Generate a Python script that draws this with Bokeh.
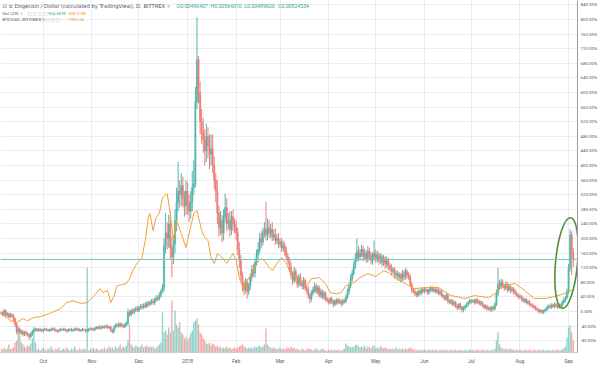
from datetime import date
from bokeh.plotting import figure
from bokeh.models import Range1d, FixedTicker, PrintfTickFormatter, Span, Label, ColumnDataSource
from bokeh.embed import file_html
from bokeh.resources import INLINE

# ---------------- data (percent change vs. first bar) ----------------
START = date(2017, 9, 4)
month_starts = [date(2017, 10, 1), date(2017, 11, 1), date(2017, 12, 1), date(2018, 1, 1),
                date(2018, 2, 1), date(2018, 3, 1), date(2018, 4, 1), date(2018, 5, 1),
                date(2018, 6, 1), date(2018, 7, 1), date(2018, 8, 1), date(2018, 9, 1)]
month_labels = ["Oct", "Nov", "Dec", "2018", "Feb", "Mar", "Apr", "May", "Jun", "Jul", "Aug", "Sep"]
pct_ticks = list(range(-80, 841, 40))

first_open = -2.0
closes = [
    -5, -8, 2, -10, -6, -14, -9, -12, -20, -35,
    -55, -48, -58, -55, -62, -57, -60, -64, -68, -62, -55, -50, -48,
    -52, -49, -51, -53, -50, -48, -50, -52, -51, -49, -47, -50, -52, -54, -51, -49, -50, -48, -51, -53,
    -50, -49, -52, -50, -48, -47, -50, -52, -51, -49, -50, -53, -51, -48, -47, -49, -50,
    -45, -43, -46, -42, -44, -41, -43, -40, -44, -42,
    -50, -55, -44, -38, -36, -40, -34, -38, -42, -36, -33,
    -2, -8, 2, -2, 5, 8, 4, 10, 14, 12, 18, 15, 22, 20, 25,
    28, 24, 32, 38, 35, 45, 55, 65,
    180, 215, 200, 240, 175, 150,
    185, 250, 300, 330, 320, 345, 310, 290, 330, 300, 275, 300, 340, 350,
    575, 690, 600, 520, 490,
    470, 440, 480, 455, 430, 445,
    400, 360, 330,
    270, 230, 250, 215,
    260, 285, 240,
    250, 225, 260, 240, 230, 215,
    170, 140, 100, 75,
    60, 80, 55, 70,
    95, 115, 105, 135, 155,
    170, 200, 190, 215, 225, 210,
    230, 215, 225, 205, 210, 195, 200, 185, 190, 175, 180, 165, 150, 140, 120,
    100, 85, 110,
    90, 75, 95, 80, 70, 85, 65, 60,
    45, 35, 50,
    60, 70, 55, 65, 45, 55, 40, 50, 35,
    30, 25, 35, 28, 20, 30, 25, 32, 27, 22, 30, 28,
    40, 55, 70, 90, 105, 125, 145,
    165, 150, 160,
    170, 150, 160, 145, 165, 155, 140, 150, 160, 145, 155, 140, 150, 135, 145, 130, 140, 125,
    120, 110, 115, 100, 105, 95, 100, 90, 105, 95, 110, 100, 95,
    75, 60, 55, 50,
    45, 55, 50, 60, 55, 62, 58, 52, 60, 65, 58, 62, 55, 60, 50,
    55, 45, 40, 35, 45, 30,
    25, 30, 20, 25, 15, 10, 20, 12, 5, 10, 15, 20, 25, 30, 28,
    30, 25, 32, 28, 22, 25, 18, 12, 15, 8, 10, 5, 12, 8, 20,
    50, 75, 70, 80,
    70, 65, 75, 60, 68, 58, 62, 55, 50,
    45, 40, 42, 35, 30, 33, 25, 28, 20, 18, 15, 12,
    8, 5, 0, 3, -2, 2, 5,
    10, 15, 12, 18, 14, 20, 15, 12, 18, 16,
    25, 32, 38,
    55, 120, 210, 160, 142.89,
]
up_wick = [
    4, 5, 6, 4, 5, 3, 6, 4, 5, 4,
    5, 8, 4, 6, 5, 4, 6, 3, 5, 6, 5, 7, 4,
    3, 4, 3, 5, 3, 4, 3, 3, 4, 5, 3, 4, 3, 3, 4, 5, 3, 4, 3, 3, 4, 3, 5, 3, 4, 3, 3, 4, 3, 5,
    3, 3, 4, 3, 4, 3, 5, 4, 3, 4, 6, 3, 4, 3, 5, 4, 3,
    4, 3, 6, 5, 4, 6, 5, 4, 3, 5, 6,
    10, 6, 5, 7, 5, 6, 8, 5, 6, 7, 5, 8, 6, 7, 6,
    6, 8, 5, 7, 6, 8, 7, 10,
    20, 55, 30, 25, 35, 30,
    25, 30, 40, 80, 30, 35, 25, 20, 30, 25, 20, 30, 45, 64,
    40, 116, 10, 30, 35,
    40, 30, 35, 25, 30, 40,
    40, 25, 20,
    30, 20, 25, 15,
    20, 38, 25,
    20, 25, 15, 20, 15, 20,
    15, 20, 15, 10,
    10, 12, 10, 8,
    10, 12, 15, 10, 15,
    20, 15, 20, 15, 20, 75,
    25, 20, 15, 20, 15, 18, 12, 15, 10, 12, 15, 10, 12, 10, 8,
    15, 10, 12,
    8, 10, 8, 10, 8, 10, 6, 8,
    8, 6, 8,
    8, 10, 6, 8, 6, 8, 6, 8, 5,
    5, 6, 5, 6, 4, 5, 6, 5, 4, 5, 6, 5,
    6, 8, 10, 12, 10, 12, 15,
    35, 15, 12,
    12, 10, 12, 8, 14, 10, 8, 12, 35, 10, 12, 8, 10, 8, 10, 8, 10, 8,
    8, 10, 8, 6, 8, 6, 8, 6, 10, 8, 10, 6, 8,
    8, 6, 5, 6,
    5, 6, 4, 6, 5, 6, 5, 4, 6, 5, 4, 6, 5, 4, 5,
    5, 6, 4, 5, 6, 4,
    4, 5, 4, 5, 4, 5, 4, 5, 4, 5, 4, 5, 4, 5, 4,
    5, 4, 5, 4, 4, 5, 4, 4, 5, 4, 4, 5, 4, 4, 6,
    10, 45, 12, 10,
    8, 6, 8, 6, 8, 5, 6, 5, 6,
    5, 4, 5, 4, 5, 4, 5, 4, 4, 5, 4, 4,
    4, 3, 4, 3, 4, 3, 4,
    4, 5, 4, 5, 4, 5, 4, 4, 5, 4,
    5, 6, 6,
    8, 10, 15, 10, 15,
]
dn_wick = [
    4, 5, 4, 6, 4, 5, 4, 5, 6, 8,
    8, 5, 6, 5, 6, 5, 6, 5, 10, 5, 4, 5, 4,
    4, 3, 4, 3, 5, 3, 4, 3, 3, 4, 3, 5, 3, 4, 3, 3, 4, 3, 3, 5, 3, 4, 3, 3, 4, 5, 3, 3, 4, 3,
    3, 4, 3, 5, 3, 4, 3, 3, 4, 3, 3, 5, 3, 4, 3, 4, 3,
    6, 5, 4, 3, 5, 4, 3, 5, 4, 3, 4,
    5, 6, 5, 6, 5, 6, 5, 6, 5, 6, 5, 6, 5, 6, 5,
    6, 5, 6, 5, 6, 5, 6, 5,
    10, 20, 30, 25, 30, 55,
    20, 25, 30, 25, 35, 30, 25, 30, 25, 35, 30, 20, 25, 20,
    10, 20, 30, 35, 30,
    35, 40, 30, 35, 40, 30,
    20, 25, 30,
    30, 25, 20, 25,
    20, 15, 20,
    15, 20, 15, 20, 15, 20,
    15, 20, 15, 20,
    15, 10, 20, 10,
    10, 12, 10, 12, 10,
    12, 10, 15, 10, 12, 15,
    15, 12, 15, 12, 10, 12, 10, 12, 10, 12, 10, 12, 10, 10, 12,
    10, 12, 8,
    8, 10, 8, 10, 8, 10, 8, 10,
    10, 13, 8,
    6, 8, 6, 8, 6, 8, 6, 8, 6,
    5, 6, 5, 6, 8, 5, 6, 5, 6, 8, 5, 6,
    5, 6, 8, 6, 8, 6, 8,
    10, 12, 10,
    10, 12, 10, 12, 10, 12, 10, 12, 10, 12, 10, 12, 10, 12, 10, 12, 10, 12,
    8, 10, 8, 10, 8, 10, 8, 10, 8, 10, 8, 10, 8,
    6, 8, 6, 8,
    5, 6, 5, 6, 5, 6, 5, 6, 5, 6, 5, 6, 5, 6, 5,
    6, 5, 6, 5, 6, 8,
    5, 6, 5, 6, 5, 6, 5, 6, 8, 5, 6, 5, 6, 5, 6,
    5, 6, 5, 6, 5, 6, 5, 6, 5, 6, 5, 6, 5, 6, 5,
    5, 8, 10, 8,
    6, 8, 6, 8, 6, 8, 6, 8, 6,
    5, 6, 5, 6, 5, 6, 5, 6, 5, 6, 5, 6,
    5, 4, 5, 4, 5, 4, 5,
    4, 5, 4, 5, 4, 5, 4, 5, 4, 5,
    4, 5, 6,
    5, 8, 10, 60, 20,
]
volume = [
    4, 3, 5, 3, 4, 8, 3, 4, 5, 10,
    12, 20, 17, 10, 8, 6, 5, 7, 6, 9, 14, 19, 10,
    3, 4, 2, 3, 5, 3, 2, 4, 3, 6, 3, 2, 4, 3, 5, 2, 3, 4, 3, 5, 3, 2, 4, 3, 6, 3, 2, 4, 3, 3,
    4, 3, 85, 2, 4, 3, 5, 3, 4, 3, 2, 4, 3, 5, 3, 4, 6,
    4, 5, 3, 6, 4, 5, 8, 4, 6, 5, 7,
    12, 28, 8, 6, 5, 7, 6, 5, 6, 8, 5, 6, 7, 5, 6,
    5, 6, 4, 5, 6, 8, 10, 40,
    20, 22, 18, 25, 20, 52,
    22, 42, 28, 25, 30, 20, 18, 14, 16, 12, 15, 19, 22, 30,
    32, 34, 28, 20, 18,
    14, 12, 9, 8, 10, 7,
    9, 8, 6,
    7, 5, 6, 4,
    5, 4, 6,
    4, 5, 3, 4, 5, 4,
    5, 6, 7, 8,
    6, 5, 4, 5,
    4, 5, 4, 6, 5,
    6, 7, 5, 6, 8, 24,
    8, 6, 5, 4, 5, 4, 3, 4, 5, 3, 4, 3, 4, 5, 4,
    6, 4, 5,
    3, 4, 3, 2, 4, 3, 2, 3,
    4, 3, 3,
    2, 3, 4, 3, 2, 3, 4, 3, 2,
    2, 3, 2, 3, 2, 3, 2, 3, 2, 2, 3, 4,
    9, 7, 6, 5, 6, 5, 7,
    8, 6, 5,
    6, 5, 7, 4, 6, 5, 4, 6, 7, 4, 5, 4, 6, 5, 4, 5, 4, 3,
    4, 3, 4, 3, 5, 3, 4, 3, 4, 3, 4, 3, 4,
    5, 4, 3, 3,
    2, 3, 2, 3, 2, 3, 2, 2, 3, 2, 3, 2, 3, 2, 2,
    3, 2, 3, 2, 3, 2,
    2, 3, 2, 2, 3, 2, 2, 3, 2, 2, 3, 2, 2, 3, 2,
    3, 2, 2, 3, 2, 2, 3, 2, 2, 3, 2, 2, 3, 2, 4,
    12, 20, 8, 5,
    4, 3, 4, 3, 3, 4, 3, 3, 2,
    3, 2, 3, 2, 2, 3, 2, 2, 3, 2, 2, 3,
    2, 2, 3, 2, 2, 3, 2,
    2, 3, 2, 2, 3, 2, 2, 3, 2, 2,
    3, 4, 6,
    15, 25, 27, 20, 12,
]
btc_day = [0, 3, 6, 10, 14, 17, 21, 25, 31, 38, 42, 46, 49, 52, 55, 59, 63, 65, 68, 70,
           72, 74, 77, 80, 82, 84, 87, 90, 92, 94, 95, 97, 99, 101, 103, 106, 108, 110, 112, 115,
           118, 120, 123, 125, 128, 130, 132, 134, 136, 138, 141, 144, 148, 150, 152, 155, 157, 160, 163, 166,
           168, 171, 173, 176, 179, 182, 184, 188, 195, 198, 203, 207, 210, 214, 217, 220, 225, 229, 234, 239,
           244, 247, 252, 257, 260, 264, 271, 279, 287, 296, 302, 311, 316, 320, 328, 334, 340, 347, 353, 359, 365]
btc_pct = [-5, -14, -25, -30, -19, -25, -16, -14, -5, 8, 25, 30, 25, 22, 25, 41, 63, 52, 58, 25,
           41, 71, 74, 77, 90, 112, 134, 148, 195, 258, 269, 222, 258, 269, 312, 323, 269, 195, 249, 214,
           175, 214, 269, 277, 222, 203, 195, 148, 132, 159, 148, 132, 159, 140, 93, 58, 85, 104, 132, 145,
           140, 121, 112, 132, 148, 132, 112, 93, 71, 90, 93, 77, 52, 49, 52, 71, 79, 93, 104, 96,
           112, 107, 90, 79, 71, 63, 66, 66, 44, 36, 44, 38, 52, 71, 77, 58, 36, 36, 41, 49, 60]
last_doge = 142.89
last_btc = 60.82
ellipse_day, ellipse_pct = 360.7, 133

# ---------------- derived ----------------
n = min(len(closes), len(up_wick), len(dn_wick), len(volume))
closes, up_wick, dn_wick, volume = closes[:n], up_wick[:n], dn_wick[:n], volume[:n]
days = list(range(n))
opens = [first_open] + closes[:-1]
tops = [max(o, c) for o, c in zip(opens, closes)]
bots = [min(o, c) for o, c in zip(opens, closes)]
highs = [t + u for t, u in zip(tops, up_wick)]
lows = [b - d for b, d in zip(bots, dn_wick)]
UP, DN = "#52b6aa", "#ee7c79"
UPV, DNV = "#8fd0c9", "#f3a7a5"
ccol = [UP if c >= o else DN for o, c in zip(opens, closes)]
vcol = [UPV if c >= o else DNV for o, c in zip(opens, closes)]
src = ColumnDataSource(dict(x=days, top=tops, bot=bots, hi=highs, lo=lows, c=ccol, vol=volume, vc=vcol))
month_days = [(m - START).days for m in month_starts]

X0, X1 = -0.3, 367.7
p = figure(width=600, height=367, x_range=Range1d(X0, X1), y_range=Range1d(-112, 852),
           y_axis_location="right", output_backend="svg", toolbar_location=None,
           min_border_left=0, min_border_top=0, min_border_right=20, min_border_bottom=15)
p.extra_y_ranges = {"vol": Range1d(0, 352)}
p.outline_line_color = None
p.background_fill_color = "white"

FONT = "Roboto"
p.yaxis.ticker = FixedTicker(ticks=pct_ticks)
p.yaxis.formatter = PrintfTickFormatter(format="%.2f%%")
p.yaxis.major_label_text_font_size = "4.4px"
p.yaxis.major_label_text_font = FONT
p.yaxis.major_label_text_color = "#555a66"
p.yaxis.major_tick_out = 0
p.yaxis.major_tick_in = 0
p.yaxis.minor_tick_out = 0
p.yaxis.minor_tick_in = 0
p.yaxis.major_label_standoff = 3
p.yaxis.axis_line_color = "#9a9ea8"

p.xaxis.ticker = FixedTicker(ticks=month_days)
p.xaxis.major_label_overrides = {d: l for d, l in zip(month_days, month_labels)}
p.xaxis.major_label_text_font_size = "5px"
p.xaxis.major_label_text_font = FONT
p.xaxis.major_label_text_color = "#555a66"
p.xaxis.major_tick_out = 0
p.xaxis.major_tick_in = 0
p.xaxis.minor_tick_out = 0
p.xaxis.minor_tick_in = 0
p.xaxis.major_label_standoff = 5
p.xaxis.axis_line_color = "#c9ccd2"

p.xgrid.ticker = FixedTicker(ticks=month_days)
p.ygrid.ticker = FixedTicker(ticks=pct_ticks)
p.xgrid.grid_line_color = "#e9edf2"
p.ygrid.grid_line_color = "#e9edf2"

# volume
p.vbar(x="x", width=0.85, top="vol", bottom=0, source=src, y_range_name="vol",
       fill_color="vc", line_color=None)
# last price line
p.add_layout(Span(location=last_doge, dimension="width", line_color="#6fc4ba", line_width=1))
# candles
p.segment(x0="x", y0="lo", x1="x", y1="hi", source=src, line_color="c", line_width=1)
p.vbar(x="x", width=0.8, top="top", bottom="bot", source=src, fill_color="c", line_color="c", line_width=0.5)
# BTC comparison
p.line(btc_day, btc_pct, line_color="#f2a035", line_width=1)
# highlight ellipse
p.ellipse(x=[ellipse_day], y=[ellipse_pct], width=22, height=91, width_units="screen",
          height_units="screen", angle=-0.09, fill_color=None, line_color="#4f8f36", line_width=1.6)

# price tags on axis
p.add_layout(Label(x=X1, y=last_doge, x_offset=1, text=f"{last_doge:.2f}%", text_font=FONT,
                   text_font_size="4.4px", text_color="white", text_baseline="middle",
                   background_fill_color="#26a69a", text_font_style="bold"))
p.add_layout(Label(x=X1, y=last_btc, x_offset=1, text=f"{last_btc:.2f}%", text_font=FONT,
                   text_font_size="4.4px", text_color="white", text_baseline="middle",
                   background_fill_color="#f39a1f", text_font_style="bold"))

# header legend
TXT, TEAL, ORANGE, BOX = "#4a4e5a", "#3aa597", "#ef9b2a", "#a4a8b2"
hdr = [
    (1, 838, "\u229f \u2261 Dogecoin / Dollar (calculated by TradingView), D, BITTREX \u2218", TXT, "5.2px", "DejaVu Sans"),
    (112, 838, "O0.00496407", TEAL, "5.2px", FONT),
    (133.6, 838, "H0.00564010", TEAL, "5.2px", FONT),
    (155.1, 838, "L0.00489600", TEAL, "5.2px", FONT),
    (176.7, 838, "C0.00524534", TEAL, "5.2px", FONT),
    (1, 817, "Vol (20) \u2218", TXT, "4.2px", "DejaVu Sans"),
    (17, 817, "\u25a1 \u25a1 \u25a1 \u25a1", BOX, "4.2px", "DejaVu Sans"),
    (30, 817, "954.587K", TEAL, "4.2px", FONT),
    (43, 817, "438.974K", ORANGE, "4.2px", FONT),
    (1, 799, "BTCUSD, BITFINEX \u2218", TXT, "4.2px", "DejaVu Sans"),
    (25, 799, "\u25a1 \u25a1 \u25a1 \u25a1", BOX, "4.2px", "DejaVu Sans"),
    (43, 799, "7285.24", ORANGE, "4.2px", FONT),
]
for x, y, t, col, fs, fnt in hdr:
    p.add_layout(Label(x=x, y=y, text=t, text_font=fnt, text_font_size=fs,
                       text_color=col, text_baseline="middle"))

open("out.html", "w").write(file_html(p, INLINE))
